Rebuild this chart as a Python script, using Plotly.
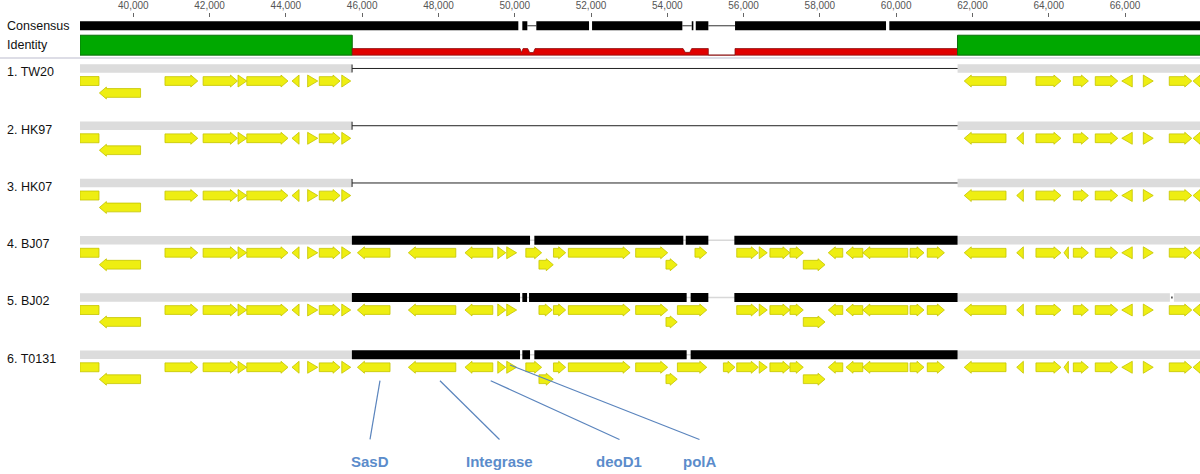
import plotly.graph_objects as go

# ---------------- data (genome coordinates, bp) ----------------
X_MIN, X_MAX = 38602, 67966
TICKS = list(range(40000, 68001, 2000))

TRACK_NAMES = ["1. TW20", "2. HK97", "3. HK07", "4. BJ07", "5. BJ02", "6. T0131"]

# consensus sequence blocks
CONS_START = [38600, 50199, 50566, 52027, 54641, 54746, 55776, 59821]
CONS_END = [50094, 50330, 51948, 54394, 54683, 55076, 59734, 68000]

# identity profile (% identity)
IDENT_POS = [38600, 45740, 45740, 50139, 50178, 50218, 50340, 50390, 50490, 50532,
             54412, 54470, 54590, 54640, 55075, 55075, 55775, 55775, 61608, 61608, 68000]
IDENT_VAL = [100, 100, 33, 33, 13, 33, 33, 13, 13, 33,
             33, 14, 14, 33, 33, 0, 0, 33, 33, 100, 100]

# aligned (grey) blocks per track
GREY_SEGS = {
    "1. TW20": [(38600, 45735), (61610, 68000)],
    "2. HK97": [(38600, 45735), (61610, 68000)],
    "3. HK07": [(38600, 45735), (61610, 68000)],
    "4. BJ07": [(38600, 45730), (61610, 68000)],
    "5. BJ02": [(38600, 45730), (61610, 67177), (67282, 68000)],
    "6. T0131": [(38600, 45730), (61610, 68000)],
}
# deleted island (thin line) in tracks 1-3
DELETION_SEGS = {
    "1. TW20": [(45735, 61610)],
    "2. HK97": [(45735, 61610)],
    "3. HK07": [(45735, 61610)],
}
# island blocks (black) in tracks 4-6
ISLAND_SEGS = {
    "4. BJ07": [(45730, 50401), (50514, 54420), (54483, 55076), (55758, 61610)],
    "5. BJ02": [(45730, 50139), (50199, 50323), (50375, 54507), (54612, 55076), (55758, 61610), (67215, 67245)],
    "6. T0131": [(45730, 50139), (50199, 50401), (50514, 54507), (54612, 61610)],
}

# genes: (start, end, strand, row)   strand 0 = box
LEFT_FLANK_GENES = [
    (38600, 39100, 0, 1), (39110, 40190, -1, 2), (40830, 41690, 1, 1), (41830, 42730, 1, 1),
    (42745, 42975, 1, 1), (42975, 44055, 1, 1), (44160, 44345, -1, 1), (44570, 44835, 1, 1),
    (44875, 45420, 1, 1), (45465, 45700, 1, 1),
]
RIGHT_FLANK_GENES = [
    (61785, 62880, -1, 1), (63665, 64320, 1, 1), (64645, 65040, 1, 1), (65220, 65810, 1, 1),
    (65915, 66190, -1, 1), (66480, 66740, 1, 1), (67160, 67750, 1, 1), (67785, 68400, -1, 1),
]
ISLAND_GENES = [
    (45875, 46730, -1, 1), (47210, 48455, -1, 1), (48695, 49425, -1, 1), (49555, 49765, 1, 1),
    (49790, 50050, 1, 1), (51015, 51335, 1, 1), (51405, 53025, 1, 1), (53170, 54010, 1, 1),
    (53965, 54260, 1, 2), (55820, 56385, 1, 1), (56410, 56620, 1, 1), (56690, 57215, 1, 1),
    (57215, 57565, 1, 1), (57565, 58135, 1, 2), (58220, 58600, -1, 1), (58685, 59125, -1, 1),
    (59125, 60305, -1, 1), (60365, 60730, 1, 1), (60815, 61265, 1, 1),
]
EXTRA_GENES = {
    "1. TW20": [],
    "2. HK97": [(63160, 63335, -1, 1)],
    "3. HK07": [(63160, 63335, -1, 1)],
    "4. BJ07": [(63160, 63335, -1, 1), (64400, 64515, -1, 1),
                (50290, 50705, 1, 1), (50635, 51010, 1, 2), (54725, 55035, 1, 1)],
    "5. BJ02": [(63160, 63335, -1, 1), (50635, 50985, 1, 1), (54265, 55035, 1, 1)],
    "6. T0131": [(63160, 63335, -1, 1), (64400, 64515, -1, 1),
                 (50290, 50705, 1, 1), (50635, 51010, 1, 2), (54265, 55035, 1, 1),
                 (55470, 55775, 1, 1)],
}

# gene labels under track 6
LABELS = ["SasD", "Integrase", "deoD1", "polA"]
LABEL_X = [46205, 49600, 52746, 54843]
ANCHOR_X = [46467, 48040, 49370, 49876]
ANCHOR_ROW = [2, 2, 2, 1]

# ---------------- layout helpers ----------------
W, H = 1200, 474
ML, MT = 80, 16
BPP = (X_MAX - X_MIN) / (W - ML)
FONT = "Liberation Sans, Arial, sans-serif"

TRACK_Y0 = 66.7
TRACK_STEP = 57.5
BAR_HALF = 4.3
ROW_OFF = {1: 12.6, 2: 24.6}

YELLOW = "#eeee12"
YELLOW_EDGE = "#c4c400"


def rect_path(segs, yc, half):
    xs, ys = [], []
    for s, e in segs:
        xs += [s, e, e, s, s, None]
        ys += [yc - half, yc - half, yc + half, yc + half, yc - half, None]
    return xs, ys


def gene_path(genes, yc):
    xs, ys = [], []
    head = 7 * BPP
    tri = 11 * BPP
    bh, hh = 4.4, 6.0
    for s, e, strand, row in genes:
        y = yc + ROW_OFF[row]
        L = e - s
        if strand == 0:
            px = [s, e, e, s, s]
            py = [y - 4.5, y - 4.5, y + 4.5, y + 4.5, y - 4.5]
        elif L <= tri:
            if strand > 0:
                px = [s, e, s, s]
            else:
                px = [e, s, e, e]
            py = [y - hh, y, y + hh, y - hh]
        else:
            if strand > 0:
                b = e - head
                px = [s, b, b, e, b, b, s, s]
            else:
                b = s + head
                px = [e, b, b, s, b, b, e, e]
            py = [y - bh, y - bh, y - hh, y, y + hh, y + bh, y + bh, y - bh]
        xs += px + [None]
        ys += py + [None]
    return xs, ys


def poly(xs, ys, fill, line=None, lw=0.0):
    return go.Scatter(x=xs, y=ys, mode="lines", fill="toself", fillcolor=fill,
                      line=dict(color=line or fill, width=lw),
                      hoverinfo="skip", showlegend=False)


def lines(xs, ys, color, width):
    return go.Scatter(x=xs, y=ys, mode="lines", line=dict(color=color, width=width),
                      hoverinfo="skip", showlegend=False)


fig = go.Figure()

# ---- consensus ----
CONS_Y, CONS_HALF = 23.8, 4.5
gx, gy = [], []
for i in range(len(CONS_START) - 1):
    a, b = CONS_END[i], CONS_START[i + 1]
    if (b - a) / BPP > 5:
        gx += [a, b, None]
        gy += [CONS_Y, CONS_Y, None]
fig.add_trace(lines(gx, gy, "#333333", 1))
xs, ys = rect_path(list(zip(CONS_START, CONS_END)), CONS_Y, CONS_HALF)
fig.add_trace(poly(xs, ys, "#000000"))

# ---- identity ----
ID_BASE, ID_H = 53.3, 20.0
runs = []
for p, v in zip(IDENT_POS, IDENT_VAL):
    cls = "g" if v >= 90 else "r"
    if runs and runs[-1][0] == cls:
        runs[-1][1].append((p, v))
    else:
        runs.append([cls, [(p, v)]])
for cls, pts in runs:
    px = [p for p, _ in pts]
    py = [ID_BASE - v / 100 * ID_H for _, v in pts]
    px = px + [px[-1], px[0], px[0]]
    py = py + [ID_BASE, ID_BASE, py[0]]
    if cls == "g":
        fig.add_trace(poly(px, py, "#00a800", "#0b6f0b", 1))
    else:
        fig.add_trace(poly(px, py, "#e00000", "#8a1010", 0.8))

# ---- tracks ----
for i, name in enumerate(TRACK_NAMES):
    yc = TRACK_Y0 + TRACK_STEP * i
    if name in ISLAND_SEGS:
        fig.add_trace(lines([45730, 61610], [yc, yc], "#d8d8d8", 1.5))
    xs, ys = rect_path(GREY_SEGS[name], yc, BAR_HALF)
    fig.add_trace(poly(xs, ys, "#dcdcdc"))
    if name in DELETION_SEGS:
        dx, dy = [], []
        for s, e in DELETION_SEGS[name]:
            dx += [s, e, None, s, s, None]
            dy += [yc, yc, None, yc - 4, yc + 4, None]
        fig.add_trace(lines(dx, dy, "#222222", 1))
    if name in ISLAND_SEGS:
        segs = ISLAND_SEGS[name]
        big = [sg for sg in segs if sg[1] - sg[0] > 100]
        small = [sg for sg in segs if sg[1] - sg[0] <= 100]
        xs, ys = rect_path(big, yc, BAR_HALF + 0.3)
        fig.add_trace(poly(xs, ys, "#000000"))
        if small:
            xs, ys = rect_path(small, yc, 1.0)
            fig.add_trace(poly(xs, ys, "#000000"))
    genes = list(LEFT_FLANK_GENES) + list(RIGHT_FLANK_GENES) + EXTRA_GENES[name]
    if name in ISLAND_SEGS:
        genes += ISLAND_GENES
    xs, ys = gene_path(genes, yc)
    fig.add_trace(poly(xs, ys, YELLOW, YELLOW_EDGE, 0.8))

# ---- gene labels ----
yc6 = TRACK_Y0 + TRACK_STEP * 5
LINE_BOTTOM, LABEL_Y = 439.3, 461.7
lx, ly = [], []
for ax, lxp, r in zip(ANCHOR_X, LABEL_X, ANCHOR_ROW):
    ay = yc6 + ROW_OFF[r] + (1.5 if r == 2 else -2.3)
    lx += [ax, lxp, None]
    ly += [ay, LINE_BOTTOM, None]
fig.add_trace(lines(lx, ly, "#5a84bd", 1.2))

annotations = []
for t, x in zip(LABELS, LABEL_X):
    annotations.append(dict(x=x, y=LABEL_Y, xref="x", yref="y", text="<b>%s</b>" % t,
                            showarrow=False, xanchor="center", yanchor="middle",
                            font=dict(family=FONT, size=15, color="#5b8ccb")))

# left labels
left_items = [("Consensus", 24.5), ("Identity", 43.0)]
for i, name in enumerate(TRACK_NAMES):
    left_items.append((name, TRACK_Y0 + TRACK_STEP * i + 4.0))
for t, y in left_items:
    annotations.append(dict(x=-(ML - 5) / (W - ML), y=y, xref="paper", yref="y", text=t,
                            showarrow=False, xanchor="left", yanchor="middle",
                            font=dict(family=FONT, size=12.5, color="#111111")))

fig.update_layout(
    width=W, height=H,
    margin=dict(l=ML, r=0, t=MT, b=0, pad=0),
    paper_bgcolor="white", plot_bgcolor="white",
    showlegend=False,
    annotations=annotations,
    shapes=[dict(type="line", xref="paper", yref="y", x0=-ML / (W - ML), x1=1,
                 y0=56.2, y1=56.2, line=dict(color="#d2d2de", width=1.5))],
    xaxis=dict(range=[X_MIN, X_MAX], side="top", showgrid=False, zeroline=False,
               showline=False, ticks="outside", ticklen=4, tickcolor="#666666",
               tickwidth=1, tickvals=TICKS, tickformat=",d",
               tickfont=dict(family=FONT, size=10, color="#555555"), fixedrange=True),
    yaxis=dict(range=[H, MT], visible=False, fixedrange=True),
)

fig.write_html("out.html", config={"displayModeBar": False},
               post_script="document.body.style.margin='0';document.body.style.overflow='hidden';")
